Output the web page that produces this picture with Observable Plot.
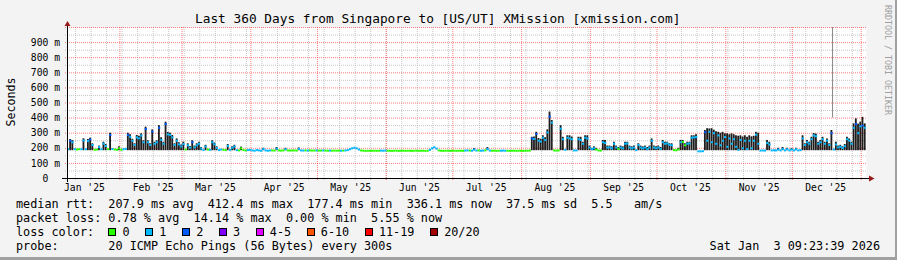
<!DOCTYPE html>
<html>
<head>
<meta charset="utf-8">
<script src="https://cdn.jsdelivr.net/npm/d3@7"></script>
<script src="https://cdn.jsdelivr.net/npm/@observablehq/plot@0.6"></script>
<style>
  html, body { margin: 0; padding: 0; background: #f3f3f3; }
  #wrap { position: relative; width: 897px; height: 260px; background: #f3f3f3; overflow: hidden;
          box-shadow: inset -2px -3px 0 #a0a0a0; }
  #wrap svg { position: absolute; left: 0; top: 0; }
</style>
</head>
<body>
<div id="wrap"></div>
<script>
// ---- data (one value per day, day 0 = Jan 8 2025 09:23:39) ----
const median = [
  194,250,240,194,192,194,194,252,194,248,
  258,222,190,192,208,194,230,215,194,288,
  195,192,190,200,190,194,196,288,276,250,
  222,272,266,284,240,328,240,222,310,230,
  240,336,256,230,360,292,288,272,222,250,
  226,212,228,192,220,204,240,206,220,230,
  198,188,212,192,190,240,226,202,188,192,
  190,188,216,190,203,212,188,186,200,188,
  186,188,190,186,184,188,186,184,196,186,
  184,186,186,185,198,186,185,186,194,186,
  185,186,186,185,196,186,185,186,185,186,
  185,185,186,185,185,186,185,184,185,184,
  185,184,185,184,185,186,188,194,200,204,
  200,192,186,184,183,184,183,184,184,183,
  184,185,184,185,184,184,183,184,184,183,
  184,184,183,184,184,183,184,184,183,184,
  184,183,184,190,200,207,198,186,184,183,
  184,184,183,184,184,183,184,184,183,185,
  186,185,184,192,185,186,184,185,186,196,
  185,184,184,183,184,184,185,184,184,183,
  184,184,183,184,184,183,184,184,185,265,
  262,295,250,245,270,255,305,410,370,186,
  185,186,330,260,190,270,265,260,186,186,
  260,255,230,270,265,205,194,200,192,186,
  185,240,235,205,206,200,230,205,196,205,
  200,230,232,205,200,205,188,222,205,200,
  205,194,205,250,205,200,205,196,240,230,
  232,222,220,188,187,192,240,242,220,230,
  232,270,272,275,180,180,181,306,250,310,
  240,300,230,285,220,250,275,210,265,230,
  260,210,190,255,200,250,195,250,200,250,
  290,230,185,186,185,235,225,186,187,186,
  192,186,196,186,194,186,192,186,194,186,
  188,265,222,240,230,260,285,280,230,240,
  260,230,250,222,300,192,225,206,210,202,
  214,260,250,230,335,360,300,345,350,336
];
// top of the dark smoke for each day (0 = no smoke)
const smokeTop = [
  0,258,251,0,0,0,0,263,0,258,
  267,230,0,0,215,0,240,225,0,300,
  0,0,0,210,0,0,0,300,290,260,
  230,285,280,296,250,340,250,230,322,240,
  250,350,270,240,373,305,300,285,230,262,
  237,222,240,0,230,212,250,215,230,240,
  205,0,220,0,0,250,235,210,0,0,
  0,0,225,0,210,220,0,0,208,0,
  0,0,0,0,0,0,0,0,200,0,
  0,0,0,0,205,0,0,0,200,0,
  0,0,0,0,202,0,0,0,0,0,
  0,0,0,0,0,0,0,0,0,0,
  0,0,0,0,0,0,0,0,0,0,
  0,0,0,0,0,0,0,0,0,0,
  0,0,0,0,0,0,0,0,0,0,
  0,0,0,0,0,0,0,0,0,0,
  0,0,0,0,0,0,0,0,0,0,
  0,0,0,0,0,0,0,0,0,0,
  0,0,0,198,0,0,0,0,0,205,
  0,0,0,0,0,0,0,0,0,0,
  0,0,0,0,0,0,0,0,0,273,
  275,306,265,260,283,270,322,440,384,0,
  0,0,350,273,0,283,283,275,0,0,
  273,273,240,283,283,215,200,210,200,0,
  0,252,252,215,215,210,240,215,205,215,
  210,240,240,215,210,215,0,230,215,210,
  215,205,215,262,215,210,215,205,252,240,
  240,230,230,0,0,200,252,252,230,240,
  240,283,283,290,0,0,0,318,330,328,
  330,320,310,306,300,306,296,296,290,296,
  290,283,280,283,275,283,273,283,276,280,
  306,300,0,0,0,252,240,0,0,0,
  200,0,205,0,200,0,198,0,200,0,
  0,283,230,252,240,273,298,294,240,252,
  273,240,262,230,318,0,240,215,220,210,
  225,273,262,240,362,395,360,373,405,362
];
// packet-loss class of each day's median (index into lossColors)
const lossCode = [
  1,2,1,1,0,0,1,1,1,1,
  2,1,0,0,1,1,1,1,0,2,
  1,0,0,0,0,1,1,2,1,1,
  1,1,1,1,1,2,1,1,2,1,
  1,2,1,1,2,1,1,1,1,1,
  1,1,1,0,1,1,2,1,1,1,
  1,1,1,0,1,1,1,1,1,1,
  0,0,1,1,1,1,1,0,0,0,
  0,1,1,1,1,1,1,1,1,1,
  1,1,0,0,1,0,0,0,1,0,
  0,0,0,0,1,1,1,0,1,0,
  0,0,1,0,0,1,0,0,1,0,
  0,0,0,1,0,1,1,1,1,1,
  1,1,0,0,0,0,0,0,0,0,
  0,1,1,1,0,0,0,0,0,0,
  0,0,0,0,0,0,0,0,0,0,
  0,0,0,1,1,1,1,0,0,0,
  0,0,0,0,0,0,0,0,0,1,
  1,0,1,1,1,0,1,1,0,1,
  1,0,0,0,0,1,1,1,0,0,
  0,0,0,0,0,0,0,0,0,2,
  1,2,1,1,1,1,1,2,1,0,
  0,0,1,1,1,1,1,1,1,1,
  1,1,1,1,1,1,1,1,0,0,
  0,1,1,1,1,1,1,1,0,1,
  1,1,1,1,1,1,1,1,1,1,
  1,1,1,1,1,1,1,1,1,1,
  1,1,1,0,0,0,1,0,0,1,
  1,1,1,1,1,1,1,2,1,1,
  1,1,1,1,1,1,1,1,1,1,
  1,1,1,1,1,1,1,1,1,1,
  1,1,1,1,1,1,1,1,1,1,
  1,1,1,1,1,1,1,1,1,1,
  1,1,1,1,1,1,1,1,1,1,
  1,1,1,1,2,1,1,1,1,1,
  1,1,1,1,1,2,1,1,2,1
];
// single outlier smoke streak
const outlierDay = [344.7];
const outlierLow = [400];
const outlierHigh = [1000];

const lossLabels = ["0", "1", "2", "3", "4-5", "6-10", "11-19", "20/20"];
const lossColors = ["#26ff00", "#00b8ff", "#0059ff", "#7e00ff", "#dd00ff", "#ff5500", "#ff0000", "#a10000"];

const yTickValues = [0, 100, 200, 300, 400, 500, 600, 700, 800, 900];
const titleText = "Last 360 Days from Singapore to [US/UT] XMission [xmission.com]";
const yLabelText = "Seconds";
const legendLines = [
  "median rtt:  207.9 ms avg  412.4 ms max  177.4 ms min  336.1 ms now  37.5 ms sd  5.5   am/s",
  "packet loss: 0.78 % avg  14.14 % max  0.00 % min  5.55 % now",
  "loss color:",
  "probe:       20 ICMP Echo Pings (56 Bytes) every 300s"
];
const stampText = "Sat Jan  3 09:23:39 2026";
const sideText = "RRDTOOL / TOBI OETIKER";

// ---- build ----
const start = new Date(Date.UTC(2025, 0, 8, 9, 23, 39));
const end = new Date(Date.UTC(2026, 0, 3, 9, 23, 39));
const DAY = 864e5;
const SMOKE_FLOOR = 184;

const rows = median.map((m, i) => ({
  x1: new Date(+start + i * DAY),
  x2: new Date(+start + (i + 1) * DAY),
  med: m, top: smokeTop[i], loss: lossCode[i]
}));
const outliers = outlierDay.map((d, i) => ({date: new Date(+start + d * DAY), lo: outlierLow[i], hi: outlierHigh[i]}));

const minorY = d3.range(50, 1000, 100);
const majorY = d3.range(100, 1001, 100);
const weeks = d3.utcSunday.range(start, end);
const months = d3.utcMonth.range(start, end);
const monthMid = d3.utcMonth.range(d3.utcMonth.floor(start), end).map(d => d3.utcDay.offset(d, 15)).filter(d => d > start && d < end);

const mono = "'DejaVu Sans Mono', monospace";
const plot = Plot.plot({
  width: 897, height: 260,
  marginLeft: 67, marginRight: 31, marginTop: 27, marginBottom: 82,
  style: {background: "transparent", fontFamily: mono, fontSize: "9.7px", color: "#000", overflow: "visible"},
  x: {type: "utc", domain: [start, end]},
  y: {domain: [0, 1000]},
  color: {type: "identity"},
  marks: [
    Plot.frame({fill: "#ffffff", stroke: null}),
    Plot.gridY(minorY, {stroke: "#b8b8b8", strokeOpacity: 0.8, strokeDasharray: "1,1", insetLeft: -2}),
    Plot.gridX(weeks, {stroke: "#b8b8b8", strokeOpacity: 0.8, strokeDasharray: "1,1", insetBottom: -2}),
    Plot.gridY(majorY, {stroke: "#ff0000", strokeOpacity: 0.5, strokeDasharray: "1,1", insetLeft: -2}),
    Plot.gridX(months, {stroke: "#ff0000", strokeOpacity: 0.5, strokeDasharray: "1,1", insetBottom: -2}),
    Plot.rect(rows.filter(d => d.top > 0), {x1: "x1", x2: "x2", y1: () => SMOKE_FLOOR, y2: "top", fill: "#1e1e1e", insetRight: 0.4}),
    Plot.ruleX(outliers, {x: "date", y1: "lo", y2: "hi", stroke: "#8a8a8a"}),
    Plot.ruleY(rows, {x1: "x1", x2: "x2", y: "med", stroke: d => lossColors[d.loss], strokeWidth: 2}),
    Plot.axisY(yTickValues, {tickSize: 0, tickPadding: 7.5, label: null,
      tickFormat: d => d === 0 ? "0\u00a0\u00a0" : `${d} m`}),
    Plot.axisX(monthMid, {tickSize: 0, tickPadding: 5.5, label: null, tickFormat: d3.utcFormat("%b '%y")})
  ]
});
document.getElementById("wrap").appendChild(plot);

// ---- axis lines, arrows, texts ----
const svg = d3.select(plot);
const sx = plot.scale("x"), sy = plot.scale("y");
const ax0 = Math.round(sx.apply(start)), ax1 = sx.apply(end);
const ay0 = Math.round(sy.apply(0)), ayT = sy.apply(1000);
const axisG = svg.append("g").attr("shape-rendering", "crispEdges");
axisG.append("line").attr("x1", ax0 - 5).attr("x2", ax1 + 3).attr("y1", ay0 + 0.5).attr("y2", ay0 + 0.5).attr("stroke", "#000");
axisG.append("line").attr("x1", ax0 + 0.5).attr("x2", ax0 + 0.5).attr("y1", ay0 + 4).attr("y2", ayT - 3).attr("stroke", "#000");
svg.append("path").attr("fill", "#981818")
  .attr("d", `M${ax0 - 2.5},${ayT - 1}L${ax0 + 3.5},${ayT - 1}L${ax0 + 0.5},${ayT - 6}Z`);
svg.append("path").attr("fill", "#981818")
  .attr("d", `M${ax1 + 3},${ay0 - 2.5}L${ax1 + 3},${ay0 + 3.5}L${ax1 + 8.5},${ay0 + 0.5}Z`);

const T = svg.append("g").attr("font-family", mono).attr("fill", "#000").attr("text-anchor", "start").style("white-space", "pre");
T.append("text").attr("x", 437.7).attr("y", 22.7).attr("text-anchor", "middle").attr("font-size", "12.8px").text(titleText);
T.append("text").attr("transform", "translate(15,102) rotate(-90)").attr("text-anchor", "middle").attr("font-size", "11.6px").text(yLabelText);
T.append("text").attr("transform", "translate(885,5) rotate(90)").attr("text-anchor", "start").attr("font-size", "8.3px").attr("fill", "#a0a0a0").text(sideText);

const baselines = [207.7, 221.7, 235.7, 249.7];
legendLines.forEach((s, i) => {
  T.append("text").attr("x", 16).attr("y", baselines[i]).attr("text-anchor", "start").attr("font-size", "11.8px").text(s);
});
T.append("text").attr("x", 880).attr("y", baselines[3]).attr("text-anchor", "end").attr("font-size", "11.8px").text(stampText);

// loss colour legend items
const probe = T.append("text").attr("font-size", "11.8px").text("0000000000");
const charW = probe.node().getComputedTextLength() / 10;
probe.remove();
let bx = 16 + 13 * charW;
lossLabels.forEach((lab, i) => {
  T.append("rect").attr("x", bx + 0.5).attr("y", baselines[2] - 7.5).attr("width", 7).attr("height", 7)
    .attr("fill", lossColors[i]).attr("stroke", "#000").attr("stroke-width", 1).attr("shape-rendering", "crispEdges");
  const lx = bx + 2 * charW;
  T.append("text").attr("x", lx).attr("y", baselines[2]).attr("text-anchor", "start").attr("font-size", "11.8px").text(lab);
  bx = lx + lab.length * charW + 15.5;
});
</script>
</body>
</html>
